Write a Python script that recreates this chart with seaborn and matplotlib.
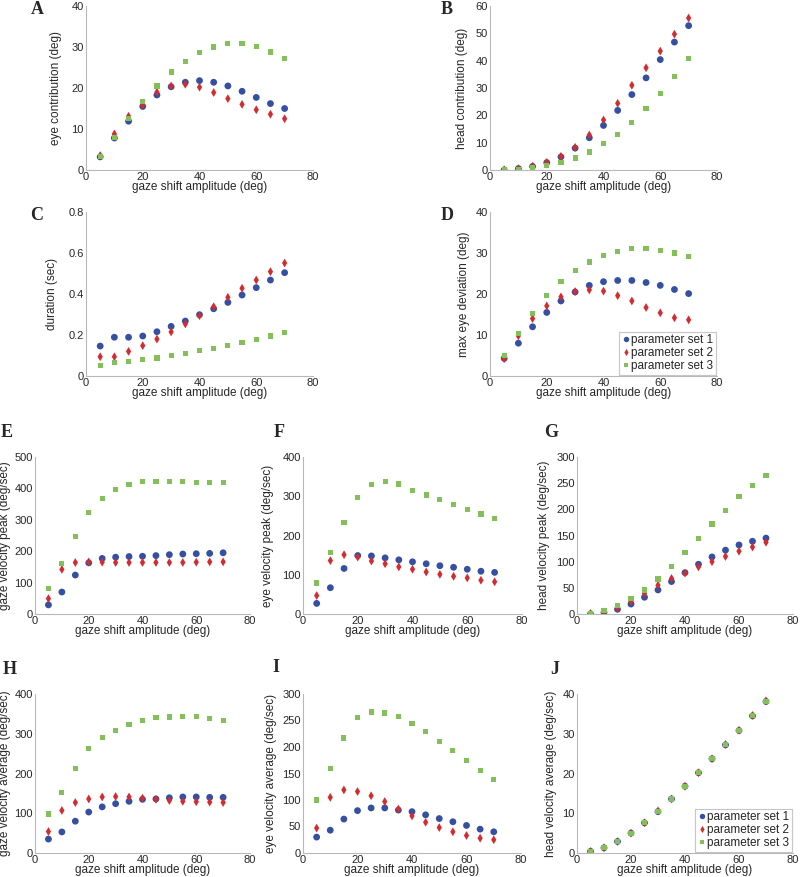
import pandas as pd
import seaborn as sns
import matplotlib
matplotlib.use('Agg')
import matplotlib.pyplot as plt
from matplotlib.ticker import FuncFormatter

# gaze shift amplitudes (deg)
amp = [5, 10, 15, 20, 25, 30, 35, 40, 45, 50, 55, 60, 65, 70]
set_names = ['parameter set 1', 'parameter set 2', 'parameter set 3']

# A: eye contribution (deg)
eye_contrib_1 = [3.2, 7.8, 11.9, 15.5, 18.3, 20.3, 21.4, 21.8, 21.4, 20.5, 19.2, 17.7, 16.2, 15.0]
eye_contrib_2 = [3.5, 8.8, 13.1, 15.8, 19.0, 20.5, 20.9, 20.2, 18.9, 17.4, 16.0, 14.7, 13.6, 12.5]
eye_contrib_3 = [3.2, 8.0, 12.6, 16.7, 20.5, 23.9, 26.5, 28.6, 30.0, 30.8, 30.8, 30.1, 28.8, 27.1]

# B: head contribution (deg)
head_contrib_1 = [0.0, 0.5, 1.3, 2.7, 4.8, 8.0, 11.8, 16.3, 21.8, 27.6, 33.7, 40.4, 46.8, 52.8]
head_contrib_2 = [0.1, 0.5, 1.4, 2.8, 5.0, 8.3, 12.8, 18.3, 24.4, 31.0, 37.4, 43.5, 49.7, 55.6]
head_contrib_3 = [0.0, 0.2, 0.8, 1.6, 2.7, 4.4, 6.6, 9.6, 12.9, 17.3, 22.4, 27.9, 34.2, 40.9]

# C: duration (sec)
duration_1 = [0.146, 0.189, 0.189, 0.195, 0.216, 0.242, 0.268, 0.299, 0.328, 0.359, 0.395, 0.431, 0.468, 0.504]
duration_2 = [0.094, 0.094, 0.120, 0.148, 0.180, 0.215, 0.254, 0.294, 0.338, 0.384, 0.428, 0.468, 0.509, 0.551]
duration_3 = [0.052, 0.067, 0.072, 0.080, 0.088, 0.099, 0.109, 0.124, 0.133, 0.148, 0.163, 0.179, 0.195, 0.213]

# D: max eye deviation (deg)
max_dev_1 = [4.3, 8.0, 12.0, 15.5, 18.3, 20.5, 22.1, 23.0, 23.3, 23.3, 22.8, 22.1, 21.1, 20.1]
max_dev_2 = [4.2, 9.8, 14.0, 17.1, 19.3, 20.6, 21.0, 20.7, 19.6, 18.3, 16.7, 15.4, 14.2, 13.7]
max_dev_3 = [5.0, 10.3, 15.3, 19.6, 23.0, 25.7, 27.8, 29.3, 30.3, 31.0, 31.1, 30.7, 30.0, 29.1]

# E: gaze velocity peak (deg/sec)
gaze_peak_1 = [29, 70, 124, 163, 177, 181, 183, 184, 186, 189, 191, 192, 193, 195]
gaze_peak_2 = [49, 142, 164, 166, 165, 164, 164, 164, 164, 164, 164, 165, 166, 166]
gaze_peak_3 = [82, 162, 247, 322, 369, 396, 413, 421, 423, 421, 421, 419, 418, 418]

# F: eye velocity peak (deg/sec)
eye_peak_1 = [27, 67, 116, 149, 148, 143, 138, 133, 128, 123, 119, 114, 109, 106]
eye_peak_2 = [47, 136, 151, 145, 135, 128, 120, 114, 107, 101, 96, 92, 86, 82]
eye_peak_3 = [79, 157, 234, 297, 329, 337, 331, 315, 303, 291, 279, 266, 255, 244]

# G: head velocity peak (deg/sec)
head_peak_1 = [0, 3, 9, 19, 32, 46, 62, 79, 95, 109, 122, 132, 139, 145]
head_peak_2 = [1, 4, 11, 24, 39, 55, 68, 78, 90, 100, 110, 120, 128, 137]
head_peak_3 = [1, 7, 16, 29, 46, 67, 91, 117, 144, 172, 198, 224, 246, 265]

# H: gaze velocity average (deg/sec)
gaze_avg_1 = [35, 53, 80, 103, 116, 124, 130, 135, 136, 139, 141, 141, 140, 140]
gaze_avg_2 = [54, 107, 127, 136, 141, 142, 141, 138, 135, 132, 130, 129, 128, 127]
gaze_avg_3 = [98, 153, 213, 263, 290, 309, 323, 333, 340, 342, 344, 343, 338, 333]

# I: eye velocity average (deg/sec)
eye_avg_1 = [30, 43, 64, 80, 85, 85, 81, 78, 72, 65, 59, 52, 45, 40]
eye_avg_2 = [47, 105, 119, 116, 108, 97, 83, 70, 58, 48, 40, 33, 28, 25]
eye_avg_3 = [100, 160, 217, 256, 266, 264, 257, 244, 229, 210, 193, 174, 156, 138]

# J: head velocity average (deg/sec)
head_avg_1 = [0.4, 1.3, 2.9, 5.0, 7.6, 10.4, 13.6, 16.8, 20.2, 23.7, 27.2, 30.8, 34.5, 38.1]
head_avg_2 = [0.4, 1.3, 2.9, 5.0, 7.6, 10.6, 13.6, 16.8, 20.2, 23.7, 27.3, 30.9, 34.6, 38.3]
head_avg_3 = [0.4, 1.3, 2.9, 5.0, 7.6, 10.4, 13.6, 16.8, 20.2, 23.7, 27.2, 30.8, 34.5, 38.1]

sns.set_style('white')
plt.rcParams['font.family'] = ['Liberation Sans', 'DejaVu Sans']

W, H = 800, 877
palette = {set_names[0]: '#3550a0', set_names[1]: '#d42b30', set_names[2]: '#84c05a'}
markers = {set_names[0]: 'o', set_names[1]: 'd', set_names[2]: 's'}
sizes = {set_names[0]: 24, set_names[1]: 20, set_names[2]: 14}

# letter, ylabel, series, yticks, box (px: left, top, right, bottom),
# letter pos, ylabel offset (px left of axis), legend
panels = [
    ('A', 'eye contribution (deg)', (eye_contrib_1, eye_contrib_2, eye_contrib_3),
     [0, 10, 20, 30, 40], (86, 6, 313, 170), (37, 9), 24, False),
    ('B', 'head contribution (deg)', (head_contrib_1, head_contrib_2, head_contrib_3),
     [0, 10, 20, 30, 40, 50, 60], (490, 6, 717, 170), (447, 9), 22, False),
    ('C', 'duration (sec)', (duration_1, duration_2, duration_3),
     [0, 0.2, 0.4, 0.6, 0.8], (86, 212, 313, 376), (37, 215), 28, False),
    ('D', 'max eye deviation (deg)', (max_dev_1, max_dev_2, max_dev_3),
     [0, 10, 20, 30, 40], (490, 212, 717, 376), (447, 215), 20, True),
    ('E', 'gaze velocity peak (deg/sec)', (gaze_peak_1, gaze_peak_2, gaze_peak_3),
     [0, 100, 200, 300, 400, 500], (35, 457, 250, 614), (7, 432), 24, False),
    ('F', 'eye velocity peak (deg/sec)', (eye_peak_1, eye_peak_2, eye_peak_3),
     [0, 100, 200, 300, 400], (303, 457, 522, 614), (279, 432), 29, False),
    ('G', 'head velocity peak (deg/sec)', (head_peak_1, head_peak_2, head_peak_3),
     [0, 50, 100, 150, 200, 250, 300], (577, 457, 793, 614), (551, 432), 27, False),
    ('H', 'gaze velocity average (deg/sec)', (gaze_avg_1, gaze_avg_2, gaze_avg_3),
     [0, 100, 200, 300, 400], (35, 694, 250, 853), (10, 670), 24, False),
    ('I', 'eye velocity average (deg/sec)', (eye_avg_1, eye_avg_2, eye_avg_3),
     [0, 50, 100, 150, 200, 250, 300], (303, 694, 521, 853), (276, 668), 26, False),
    ('J', 'head velocity average (deg/sec)', (head_avg_1, head_avg_2, head_avg_3),
     [0, 10, 20, 30, 40], (577, 694, 793, 853), (555, 670), 20, True),
]

fig = plt.figure(figsize=(W / 100, H / 100), dpi=100)

for letter, ylabel, series, yticks, box, lpos, yoff, show_legend in panels:
    l, t, r, b = box
    ax = fig.add_axes([l / W, 1 - b / H, (r - l) / W, (b - t) / H])

    df = pd.DataFrame({
        'amp': amp * 3,
        'value': list(series[0]) + list(series[1]) + list(series[2]),
        'set': [n for n in set_names for _ in amp],
    })
    sns.scatterplot(data=df, x='amp', y='value', hue='set', style='set',
                    size='set', sizes=sizes, palette=palette, markers=markers,
                    linewidth=0, ax=ax, legend=show_legend)

    ax.set_xlim(0, 80)
    ax.set_xticks([0, 20, 40, 60, 80])
    ax.set_ylim(yticks[0], yticks[-1])
    ax.set_yticks(yticks)
    ax.yaxis.set_major_formatter(FuncFormatter(lambda v, p: '%g' % v))
    ax.set_xlabel('gaze shift amplitude (deg)', fontsize=8.5, labelpad=-0.5)
    ax.set_ylabel(ylabel, fontsize=8.5)
    ax.yaxis.set_label_coords(-yoff / (r - l), 0.5)
    ax.tick_params(direction='in', length=2.5, width=0.6, color='#b8b8b8',
                   labelsize=8, pad=1.5)
    for side in ['top', 'right']:
        ax.spines[side].set_visible(False)
    for side in ['left', 'bottom']:
        ax.spines[side].set_color('#b8b8b8')
        ax.spines[side].set_linewidth(0.8)

    if show_legend:
        handles, labels = ax.get_legend_handles_labels()
        leg = ax.legend(handles, labels, loc='lower right', fontsize=8.5,
                        frameon=True, fancybox=False, borderaxespad=0.1,
                        borderpad=0.2, handletextpad=0.05, handlelength=0.8,
                        labelspacing=0.1, markerscale=0.8)
        leg.get_frame().set_edgecolor('#b8b8b8')
        leg.get_frame().set_linewidth(0.8)

    fig.text(lpos[0] / W, 1 - lpos[1] / H, letter, ha='center', va='center',
             fontsize=13, fontweight='bold', family='Liberation Serif')

fig.savefig('out.png', dpi=100)
